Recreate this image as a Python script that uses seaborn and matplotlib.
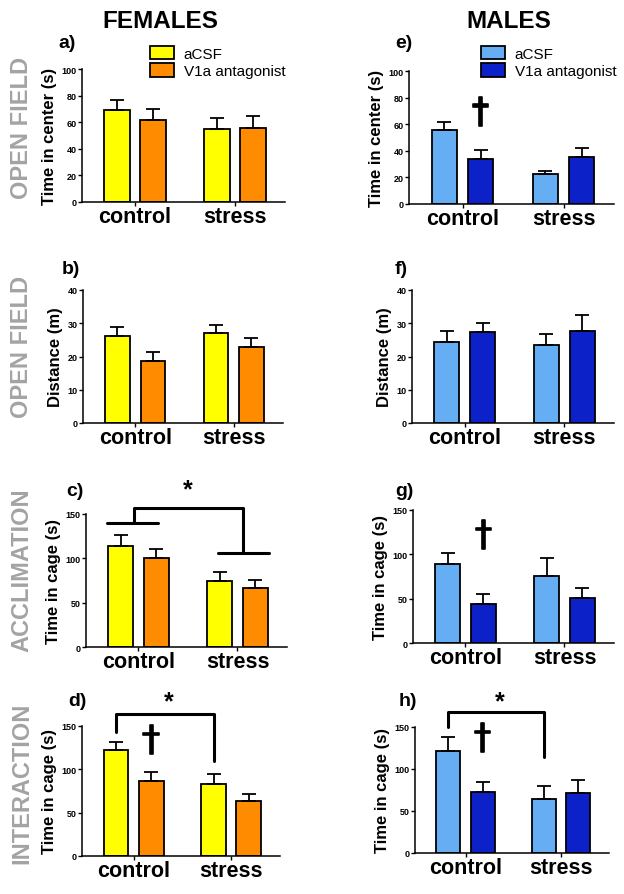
import pandas as pd
import matplotlib
matplotlib.use('Agg')
import matplotlib.pyplot as plt
import matplotlib.patheffects as pe
from matplotlib.container import BarContainer
import seaborn as sns

# Dados (medias e erro padrao), ordem: control aCSF, control V1a, stress aCSF, stress V1a
groups = ['control', 'control', 'stress', 'stress']
treatments = ['aCSF', 'V1a antagonist', 'aCSF', 'V1a antagonist']

fem_center = [69, 62, 55, 56]
fem_center_sem = [8, 8, 8, 9]
fem_distance = [26.1, 18.7, 27.1, 23.0]
fem_distance_sem = [2.9, 2.7, 2.3, 2.7]
fem_acclim = [114, 100, 75, 66]
fem_acclim_sem = [12, 11, 10, 10]
fem_inter = [122, 87, 83, 64]
fem_inter_sem = [9, 10, 12, 8]

male_center = [56, 34, 22.5, 35]
male_center_sem = [6, 6.5, 2.5, 7]
male_distance = [24.5, 27.3, 23.5, 27.6]
male_distance_sem = [3.3, 2.7, 3.2, 5.0]
male_acclim = [89, 44, 76, 51]
male_acclim_sem = [12, 11, 20, 11]
male_inter = [122, 73, 64, 72]
male_inter_sem = [16, 12, 16, 15]

fem_colors = ['#FFFF00', '#FF8C00']
male_colors = ['#66AEF4', '#0C22C8']

sns.set_style('ticks')
plt.rcParams['font.family'] = ['Liberation Sans', 'DejaVu Sans']
plt.rcParams['text.color'] = 'black'
plt.rcParams['axes.labelcolor'] = 'black'
plt.rcParams['axes.edgecolor'] = 'black'
plt.rcParams['xtick.color'] = 'black'
plt.rcParams['ytick.color'] = 'black'

fig = plt.figure(figsize=(6.24, 8.95), dpi=100)
W, H = 624, 895


def make_ax(left, right, top, bottom):
    return fig.add_axes([left / W, 1 - bottom / H, (right - left) / W, (bottom - top) / H])


def bar_containers(ax):
    return [c for c in ax.containers if isinstance(c, BarContainer)]


def draw_panel(ax, means, sems, colors, ylabel, ymax, step):
    df = pd.DataFrame({'group': groups, 'treatment': treatments, 'value': means})
    sns.barplot(data=df, x='group', y='value', hue='treatment', palette=colors,
                saturation=1, edgecolor='black', linewidth=1.3, width=0.72, gap=0.3,
                errorbar=None, legend=False, ax=ax)
    for h_idx, cont in enumerate(bar_containers(ax)):
        for g_idx, bar in enumerate(cont):
            x = bar.get_x() + bar.get_width() / 2
            m = bar.get_height()
            s = sems[g_idx * 2 + h_idx]
            ax.errorbar(x, m, yerr=[[0], [s]], fmt='none', ecolor='black',
                        elinewidth=1.3, capsize=5, capthick=1.3, zorder=1)
    ax.set_ylim(0, ymax)
    ax.set_yticks(range(0, ymax + 1, step))
    ax.set_xlim(-0.53, 1.5)
    ax.set_xlabel('')
    ax.set_ylabel(ylabel, fontsize=12, fontweight='bold', labelpad=3)
    ax.tick_params(axis='y', labelsize=6.5, length=3, width=1, pad=1)
    ax.tick_params(axis='x', labelsize=15.5, length=3, width=1, pad=0)
    for lab in ax.get_yticklabels() + ax.get_xticklabels():
        lab.set_fontweight('bold')
    sns.despine(ax=ax)
    for sp in ['left', 'bottom']:
        ax.spines[sp].set_linewidth(1.1)


def bar_center(ax, hue_idx, grp_idx):
    b = bar_containers(ax)[hue_idx][grp_idx]
    return b.get_x() + b.get_width() / 2


panels = [
    ((82, 285, 70, 203), fem_center, fem_center_sem, fem_colors, 'Time in center (s)', 100, 20, 'a)', (58, 43)),
    ((83, 283, 291, 424), fem_distance, fem_distance_sem, fem_colors, 'Distance (m)', 40, 10, 'b)', (62, 270)),
    ((86, 287, 515, 648), fem_acclim, fem_acclim_sem, fem_colors, 'Time in cage (s)', 150, 50, 'c)', (66, 492)),
    ((82, 280, 727, 857), fem_inter, fem_inter_sem, fem_colors, 'Time in cage (s)', 150, 50, 'd)', (68, 702)),
    ((409, 614, 72, 205), male_center, male_center_sem, male_colors, 'Time in center (s)', 100, 20, 'e)', (395, 43)),
    ((412, 614, 291, 424), male_distance, male_distance_sem, male_colors, 'Distance (m)', 40, 10, 'f)', (395, 270)),
    ((413, 614, 511, 644), male_acclim, male_acclim_sem, male_colors, 'Time in cage (s)', 150, 50, 'g)', (395, 492)),
    ((415, 609, 728, 854), male_inter, male_inter_sem, male_colors, 'Time in cage (s)', 150, 50, 'h)', (399, 702)),
]

axes = []
for box, means, sems, cols, ylab, ymax, step, tag, tpos in panels:
    ax = make_ax(*box)
    draw_panel(ax, means, sems, cols, ylab, ymax, step)
    fig.text(tpos[0] / W, 1 - tpos[1] / H, tag, fontsize=14, fontweight='bold',
             ha='left', va='center')
    axes.append(ax)

ax_a, ax_b, ax_c, ax_d, ax_e, ax_f, ax_g, ax_h = axes

# legendas
for ax, cols, px in [(ax_a, fem_colors, 150), (ax_e, male_colors, 481)]:
    handles = [plt.Rectangle((0, 0), 1, 1, facecolor=c, edgecolor='black', linewidth=1.3) for c in cols]
    ax.legend(handles, ['aCSF', 'V1a antagonist'], loc='center left',
              bbox_to_anchor=(px / W, 1 - 63 / H), bbox_transform=fig.transFigure,
              frameon=False, fontsize=11, handlelength=1.6, handleheight=1.0,
              handletextpad=0.6, labelspacing=0.15, borderaxespad=0, borderpad=0)

# titulos
fig.text(160 / W, 1 - 22 / H, 'FEMALES', fontsize=17.5, fontweight='bold', ha='center', va='center')
fig.text(509 / W, 1 - 22 / H, 'MALES', fontsize=17.5, fontweight='bold', ha='center', va='center')
for label, y in [('OPEN FIELD', 128), ('OPEN FIELD', 347), ('ACCLIMATION', 570), ('INTERACTION', 783)]:
    fig.text(22 / W, 1 - y / H, label, fontsize=17, fontweight='bold', color='#A3A3A3',
             rotation=90, ha='center', va='center')

lw = 2.2
# c) efeito principal de stress
ax_c.plot([-0.32, 0.2], [140, 140], color='black', lw=lw, clip_on=False)
ax_c.plot([-0.05, -0.05, 1.06, 1.06], [140, 157, 157, 106], color='black', lw=lw, clip_on=False)
ax_c.plot([0.8, 1.32], [106, 106], color='black', lw=lw, clip_on=False)
ax_c.text(0.5, 178, '*', fontsize=18, fontweight='bold', ha='center', va='center')

# d) e h) comparacao aCSF control vs stress
for ax, top, ly, ry, sy in [(ax_d, 164, 143, 110, 179), (ax_h, 168, 150, 114, 181)]:
    x0 = bar_center(ax, 0, 0)
    x1 = bar_center(ax, 0, 1)
    ax.plot([x0, x0, x1, x1], [ly, top, top, ry], color='black', lw=lw, clip_on=False)
    ax.text((x0 + x1) / 2 + 0.04, sy, '*', fontsize=18, fontweight='bold', ha='center', va='center')

# adagas
for ax, y in [(ax_e, 69), (ax_g, 121), (ax_d, 133), (ax_h, 136)]:
    ax.text(bar_center(ax, 1, 0), y, '\u2020', fontsize=25, family='DejaVu Sans',
            ha='center', va='center',
            path_effects=[pe.withStroke(linewidth=1.2, foreground='black')])

fig.savefig('out.png', dpi=100)
